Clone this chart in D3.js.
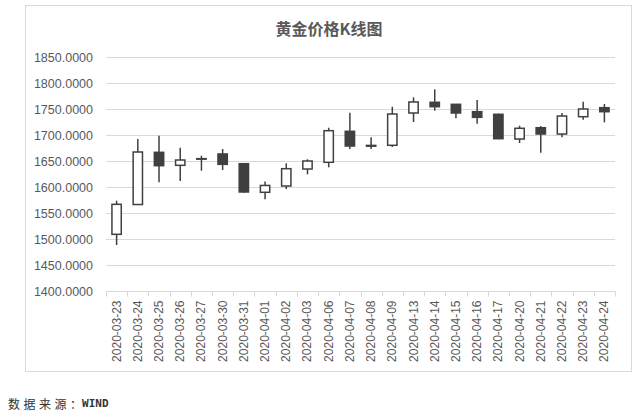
<!DOCTYPE html>
<html><head><meta charset="utf-8">
<script src="https://cdn.jsdelivr.net/npm/d3@7/dist/d3.min.js"></script>
<style>html,body{margin:0;padding:0;background:#fff;}svg{display:block;}</style>
</head><body>
<svg id="chart" width="640" height="415"></svg>
<script>
const dates = ["2020-03-23","2020-03-24","2020-03-25","2020-03-26","2020-03-27","2020-03-30","2020-03-31","2020-04-01","2020-04-02","2020-04-03","2020-04-06","2020-04-07","2020-04-08","2020-04-09","2020-04-13","2020-04-14","2020-04-15","2020-04-16","2020-04-17","2020-04-20","2020-04-21","2020-04-22","2020-04-23","2020-04-24"];
const openVals  = [1509.0,1566.3,1666.7,1641.7,1653.5,1663.5,1644.8,1589.8,1601.9,1634.6,1647.5,1707.1,1680.0,1680.2,1742.3,1762.9,1759.0,1744.8,1739.8,1692.3,1714.0,1701.9,1735.2,1752.5];
const highVals  = [1573.7,1692.3,1698.7,1675.6,1660.2,1673.0,1646.0,1610.6,1645.6,1653.3,1714.0,1742.9,1695.6,1754.4,1772.5,1787.9,1759.5,1767.3,1741.0,1717.9,1717.3,1742.3,1764.0,1759.6];
const lowVals   = [1488.5,1566.0,1609.0,1611.5,1631.3,1632.7,1589.0,1576.3,1596.2,1624.4,1637.9,1673.1,1673.1,1676.9,1725.0,1746.7,1732.1,1721.7,1692.0,1684.6,1666.0,1695.6,1729.4,1724.4];
const closeVals = [1566.7,1667.3,1641.0,1651.9,1654.5,1643.6,1590.4,1603.0,1635.2,1650.0,1708.3,1678.8,1678.5,1740.4,1763.5,1754.4,1742.3,1734.0,1692.9,1712.9,1701.9,1736.5,1750.0,1744.8];
const yTicks = [1400,1450,1500,1550,1600,1650,1700,1750,1800,1850];
const titleText = "黄金价格K线图";
const sourceLabel = "数据来源";
const sourceColon = "：";
const sourceName = "WIND";

const svg = d3.select("#chart");
const pLeft = 106, pRight = 615, pTop = 57, pBottom = 291;
const x = d3.scaleBand().domain(dates).range([pLeft, pRight]).paddingInner(0).paddingOuter(0);
const y = d3.scaleLinear().domain([1400, 1850]).range([pBottom, pTop]);
const dark = "#404040";

// outer border
svg.append("rect").attr("x", 25.5).attr("y", 5.5).attr("width", 606).attr("height", 366)
  .attr("fill", "#fff").attr("stroke", "#d9d9d9");

// title
svg.append("text").attr("x", 329).attr("y", 28).attr("text-anchor", "middle")
  .attr("dominant-baseline", "central")
  .attr("font-family", "'Noto Sans CJK SC', sans-serif").attr("font-size", 16).attr("font-weight", "bold")
  .attr("fill", "#595959").text(titleText);

// gridlines
svg.append("g").selectAll("line").data(yTicks.filter(d => d > 1400)).join("line")
  .attr("x1", pLeft).attr("x2", pRight)
  .attr("y1", d => Math.round(y(d)) + 0.5).attr("y2", d => Math.round(y(d)) + 0.5)
  .attr("stroke", "#d9d9d9").attr("stroke-width", 1);

// y axis labels
const yAxis = d3.axisLeft(y).tickValues(yTicks).tickFormat(d => d3.format(".4f")(d)).tickSize(0).tickPadding(13);
const gy = svg.append("g").attr("transform", `translate(${pLeft},0)`).call(yAxis);
gy.select(".domain").remove();
gy.selectAll("text").attr("font-family", "'Liberation Sans', Arial, sans-serif").attr("font-size", 12.5).attr("fill", "#595959");

// x axis
const xAxis = d3.axisBottom(x).tickSize(0).tickPadding(0);
const gx = svg.append("g").attr("transform", `translate(0,${Math.round(pBottom) + 0.5})`).call(xAxis);
gx.select(".domain").attr("stroke", "#d9d9d9").attr("d", `M${pLeft},0H${pRight}`);
gx.selectAll("text")
  .attr("font-family", "'Liberation Sans', Arial, sans-serif").attr("font-size", 12).attr("fill", "#595959")
  .attr("text-anchor", "end").attr("dominant-baseline", "central")
  .attr("transform", "translate(0,9) rotate(-90)").attr("x", 0).attr("y", 0).attr("dy", null);
// boundary ticks
const bounds = dates.map(d => x(d)).concat([x(dates[dates.length - 1]) + x.bandwidth()]);
gx.append("g").selectAll("line").data(bounds).join("line")
  .attr("x1", d => Math.round(d) + 0.5).attr("x2", d => Math.round(d) + 0.5)
  .attr("y1", 0).attr("y2", 5).attr("stroke", "#d9d9d9");

// candles
const data = dates.map((d, i) => ({date: d, open: openVals[i], high: highVals[i], low: lowVals[i], close: closeVals[i]}));
const bw = x.bandwidth() * 0.44;
const g = svg.append("g");
const candle = g.selectAll("g").data(data).join("g");
candle.append("line")
  .attr("x1", d => x(d.date) + x.bandwidth() / 2).attr("x2", d => x(d.date) + x.bandwidth() / 2)
  .attr("y1", d => y(d.high)).attr("y2", d => y(d.low))
  .attr("stroke", dark).attr("stroke-width", 1.5);
candle.append("rect")
  .attr("x", d => x(d.date) + x.bandwidth() / 2 - bw / 2).attr("width", bw)
  .attr("y", d => y(Math.max(d.open, d.close)))
  .attr("height", d => Math.max(0.5, Math.abs(y(d.open) - y(d.close))))
  .attr("fill", d => d.close >= d.open ? "#ffffff" : dark)
  .attr("stroke", dark).attr("stroke-width", 1.5);

// source
const src = svg.append("text").attr("x", 8).attr("y", 403).attr("dominant-baseline", "central")
  .attr("fill", "#333");
src.append("tspan").attr("font-family", "'Noto Sans CJK SC', sans-serif").attr("font-size", 12)
  .attr("letter-spacing", 3.5).text(sourceLabel);
src.append("tspan").attr("font-family", "'Noto Sans CJK SC', sans-serif").attr("font-size", 12)
  .attr("letter-spacing", 0).text(sourceColon);
src.append("tspan").attr("font-family", "'DejaVu Sans Mono', monospace").attr("font-weight", "bold")
  .attr("font-size", 11).attr("letter-spacing", 0).text(sourceName);
</script>
</body></html>
